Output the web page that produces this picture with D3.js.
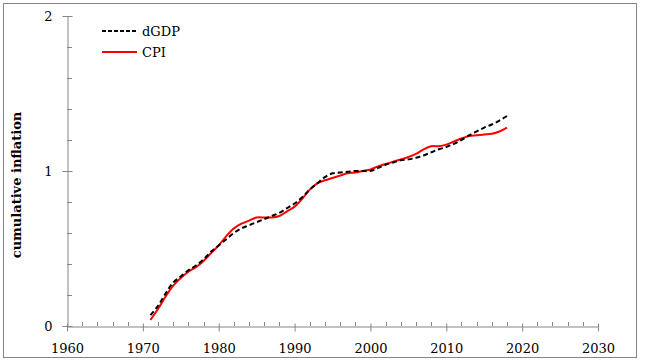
<!DOCTYPE html>
<html>
<head>
<meta charset="utf-8">
<script src="https://cdn.jsdelivr.net/npm/d3@7"></script>
<style>
  body { margin: 0; background: #fff; }
  text { font-family: "DejaVu Serif", "Liberation Serif", serif; }
</style>
</head>
<body>
<div id="plot"></div>
<script>
// Chart data
const years = d3.range(1971, 2019);
const dgdp = [0.07, 0.13, 0.21, 0.28, 0.32, 0.36, 0.39, 0.43, 0.48, 0.52,
  0.56, 0.60, 0.63, 0.65, 0.67, 0.69, 0.71, 0.73, 0.76, 0.79,
  0.83, 0.88, 0.92, 0.96, 0.985, 0.99, 0.995, 1.00, 1.00, 1.00,
  1.02, 1.04, 1.055, 1.07, 1.075, 1.085, 1.10, 1.12, 1.14, 1.155,
  1.175, 1.20, 1.23, 1.255, 1.28, 1.30, 1.325, 1.355];
const cpi = [0.04, 0.11, 0.19, 0.26, 0.31, 0.35, 0.38, 0.42, 0.47, 0.52,
  0.58, 0.63, 0.66, 0.68, 0.70, 0.70, 0.70, 0.71, 0.74, 0.77,
  0.82, 0.88, 0.92, 0.94, 0.955, 0.97, 0.985, 0.99, 1.00, 1.01,
  1.03, 1.045, 1.06, 1.075, 1.09, 1.11, 1.14, 1.16, 1.16, 1.17,
  1.19, 1.21, 1.225, 1.23, 1.235, 1.24, 1.255, 1.28];
const xTicks = [1960, 1970, 1980, 1990, 2000, 2010, 2020, 2030];
const yTicks = [0, 1, 2];
const seriesNames = ["dGDP", "CPI"];

const width = 645;
const height = 362;
const axisColor = "#868686";

const svg = d3.select("#plot")
  .append("svg")
  .attr("width", width)
  .attr("height", height);

// Outer frame
svg.append("rect")
  .attr("x", 3.5).attr("y", 3.5)
  .attr("width", 633).attr("height", 354)
  .attr("fill", "none")
  .attr("stroke", axisColor);

const x = d3.scaleLinear().domain([1960, 2030]).range([67, 598]);
const y = d3.scaleLinear().domain([0, 2]).range([326, 16]);

// Minor ticks
svg.append("g")
  .selectAll("line")
  .data(d3.range(1962, 2030, 2).filter(d => d % 10 !== 0))
  .join("line")
  .attr("x1", d => Math.round(x(d)) + 0.5).attr("x2", d => Math.round(x(d)) + 0.5)
  .attr("y1", y(0) - 4).attr("y2", y(0))
  .attr("stroke", axisColor);

svg.append("g")
  .selectAll("line")
  .data(d3.range(0.2, 2, 0.2).filter(d => Math.abs(d - 1) > 0.01))
  .join("line")
  .attr("x1", x(1960)).attr("x2", x(1960) + 5)
  .attr("y1", d => Math.round(y(d)) + 0.5).attr("y2", d => Math.round(y(d)) + 0.5)
  .attr("stroke", axisColor);

// X axis
const xAxis = svg.append("g")
  .attr("transform", `translate(0,${y(0) + 0.5})`)
  .call(d3.axisBottom(x).tickValues(xTicks).tickFormat(d3.format("d")).tickSize(5).tickSizeOuter(0));
xAxis.selectAll(".tick line").attr("y1", -3);

// Y axis
const yAxis = svg.append("g")
  .attr("transform", `translate(${x(1960) + 0.5},0)`)
  .call(d3.axisLeft(y).tickValues(yTicks).tickFormat(d3.format("d")).tickSize(5).tickSizeOuter(0));
yAxis.selectAll(".tick line").attr("x1", 5);

svg.selectAll(".domain").attr("stroke", axisColor);
svg.selectAll(".tick line").attr("stroke", axisColor);
xAxis.selectAll(".tick text")
  .attr("font-size", 13).attr("font-family", "DejaVu Serif").attr("fill", "#000").attr("dy", "1.45em");
yAxis.selectAll(".tick text")
  .attr("font-size", 13).attr("font-family", "DejaVu Serif").attr("fill", "#000").attr("x", -15);

// Y label
svg.append("text")
  .attr("transform", "translate(21,185) rotate(-90)")
  .attr("text-anchor", "middle")
  .attr("font-size", 13)
  .attr("font-weight", "bold")
  .text("cumulative inflation");

// Lines
const line = d3.line()
  .x((d, i) => x(years[i]))
  .y(d => y(d))
  .curve(d3.curveCatmullRom);

svg.append("path")
  .datum(cpi)
  .attr("fill", "none")
  .attr("stroke", "#ff0000")
  .attr("stroke-width", 2)
  .attr("d", line);

svg.append("path")
  .datum(dgdp)
  .attr("fill", "none")
  .attr("stroke", "#000")
  .attr("stroke-width", 2)
  .attr("stroke-dasharray", "5,3")
  .attr("d", line);

// Legend
const legend = svg.append("g").attr("transform", "translate(102,31)");
legend.selectAll("line")
  .data(seriesNames)
  .join("line")
  .attr("x1", 0).attr("x2", 35)
  .attr("y1", (d, i) => i * 21).attr("y2", (d, i) => i * 21)
  .attr("stroke", d => d === "CPI" ? "#ff0000" : "#000")
  .attr("stroke-width", 2)
  .attr("stroke-dasharray", d => d === "CPI" ? null : "4,2");
legend.selectAll("text")
  .data(seriesNames)
  .join("text")
  .attr("x", 40)
  .attr("y", (d, i) => i * 21 + 5)
  .attr("font-size", 13)
  .text(d => d);
</script>
</body>
</html>
